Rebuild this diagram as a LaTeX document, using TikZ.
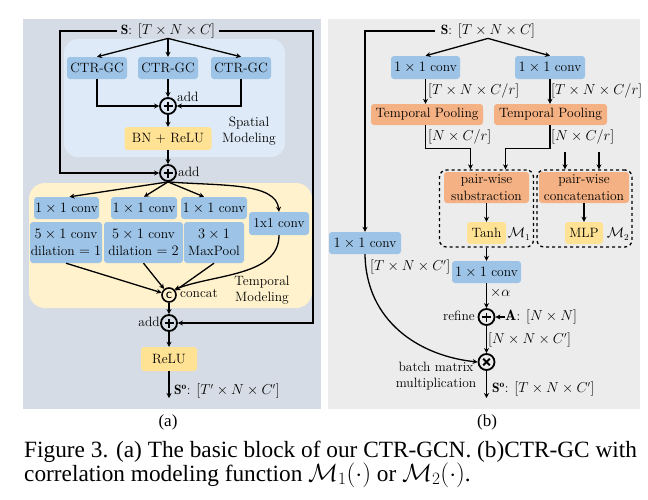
\documentclass[tikz,border=0pt]{standalone}
\usepackage{fontspec}
\newfontfamily\capfont{Liberation Serif}
\usetikzlibrary{arrows.meta,calc}
\definecolor{panelA}{RGB}{214,220,229}
\definecolor{panelB}{RGB}{236,236,236}
\definecolor{spbg}{RGB}{222,234,247}
\definecolor{tmbg}{RGB}{255,242,204}
\definecolor{cblue}{RGB}{157,195,230}
\definecolor{cyellow}{RGB}{255,226,148}
\definecolor{corange}{RGB}{244,177,131}
\begin{document}
\begin{tikzpicture}[x=1pt,y=-1pt,
  base/.style={font=\fontsize{13.5}{16.5}\selectfont, inner sep=0pt, align=center},
  lab/.style={base},
  bbox/.style={base, fill=cblue, rounded corners=3pt},
  ybox/.style={base, fill=cyellow, rounded corners=3pt},
  obox/.style={base, fill=corange, rounded corners=3pt},
  dbox/.style={draw, dashed, line width=1.3pt, rounded corners=7pt, inner sep=0pt},
  arr/.style={-{Stealth[length=5pt,width=5pt]}, line width=1.3pt},
  addc/.style={circle, draw, line width=1.8pt, minimum size=16pt, inner sep=0pt,
    path picture={\draw[line width=1.8pt]
      ([xshift=-4.5pt]path picture bounding box.center) -- ([xshift=4.5pt]path picture bounding box.center)
      ([yshift=-4.5pt]path picture bounding box.center) -- ([yshift=4.5pt]path picture bounding box.center);}},
  mulc/.style={circle, draw, line width=1.8pt, minimum size=16pt, inner sep=0pt,
    path picture={\draw[line width=1.8pt]
      ([shift={(-3.3pt,-3.3pt)}]path picture bounding box.center) -- ([shift={(3.3pt,3.3pt)}]path picture bounding box.center)
      ([shift={(-3.3pt,3.3pt)}]path picture bounding box.center) -- ([shift={(3.3pt,-3.3pt)}]path picture bounding box.center);}},
  catc/.style={circle, draw, line width=1.6pt, minimum size=14pt, inner sep=0pt,
    font=\sffamily\bfseries\fontsize{9}{9}\selectfont}
]
\useasboundingbox (0,0) rectangle (648,499);
\fill[white] (0,0) rectangle (648,499);

% ---------------- panel (a)
\fill[panelA] (23,19) rectangle (321,409);
\fill[spbg, rounded corners=14pt] (64,39) rectangle (285,157);
\fill[tmbg, rounded corners=16pt] (29,183) rectangle (312,308);

\node[lab] (sa) at (168,31) {$\mathbf{S}$: $[T\times N\times C]$};
\node[bbox, minimum width=60pt, minimum height=22pt] (g1) at (97,68) {CTR-GC};
\node[bbox, minimum width=60pt, minimum height=22pt] (g2) at (168,68) {CTR-GC};
\node[bbox, minimum width=60pt, minimum height=22pt] (g3) at (241,68) {CTR-GC};
\node[addc] (a1) at (168,106) {};
\node[lab, anchor=west] (la1) at (177,97) {add};
\node[ybox, minimum width=87pt, minimum height=23pt] (bn) at (168,138.5) {BN + ReLU};
\node[lab] (spl) at (249,131) {Spatial\\Modeling};
\node[addc] (a2) at (168,173) {};
\node[lab, anchor=west] (la2) at (178,172) {add};

\node[bbox, minimum width=65pt, minimum height=22pt] (cA) at (66.5,208) {$1\times1$ conv};
\node[bbox, minimum width=66pt, minimum height=22pt] (cB) at (144,208) {$1\times1$ conv};
\node[bbox, minimum width=66pt, minimum height=22pt] (cC) at (214,208) {$1\times1$ conv};
\node[bbox, minimum width=60pt, minimum height=23pt] (cR) at (279,223.5) {1x1 conv};
\node[bbox, minimum width=72pt, minimum height=41pt] (dD) at (66,242.5) {$5\times1$ conv\\dilation $=1$};
\node[bbox, minimum width=79pt, minimum height=41pt] (dE) at (143.5,242.5) {$5\times1$ conv\\dilation $=2$};
\node[bbox, minimum width=60pt, minimum height=41pt] (dF) at (214,242.5) {$3\times1$\\MaxPool};
\node[catc] (cc) at (169,295) {C};
\node[lab, anchor=west] (lcc) at (180,293) {concat};
\node[lab] (tml) at (262,290) {Temporal\\Modeling};
\node[addc] (a3) at (169,323) {};
\node[lab, anchor=east] (la3) at (160,322) {add};
\node[ybox, minimum width=56pt, minimum height=24pt] (relu) at (169,359) {ReLU};
\coordinate (oa) at (169,398);
\node[lab, anchor=west] (soa) at (174,391) {$\mathbf{S}^{\mathbf{o}}$: $[T'\times N\times C']$};

\draw[arr] ([xshift=-4pt]sa.west) -- (60,31) |- (a2.west);
\draw[arr] ([xshift=4pt]sa.east) -- (313,31) |- (a3.east);
\draw[arr] (sa.south) -- (g1.north);
\draw[arr] (sa.south) -- (g2.north);
\draw[arr] (sa.south) -- (g3.north);
\draw[arr] (g2) -- (a1);
\draw[arr] (g1.south) |- (a1.west);
\draw[arr] (g3.south) |- (a1.east);
\draw[arr] (a1) -- (bn);
\draw[arr] (bn) -- (a2);
\draw[arr] (a2.south) -- ([xshift=3pt]cA.north);
\draw[arr] (a2.south) -- (cB.north);
\draw[arr] (a2.south) -- ([xshift=-10pt]cC.north);
\draw[arr] (a2.south) .. controls (220,186) and (276,182) .. (cR.north);
\draw[arr] (dD.south) -- (cc);
\draw[arr] (dE.south) -- (cc);
\draw[arr] (dF.south) -- (cc);
\draw[arr] (cR.south) .. controls (279,276) and (215,274) .. (cc.north east);
\draw[arr] (cc) -- (a3);
\draw[arr] (a3) -- (relu);
\draw[arr] (relu) -- (oa);

% ---------------- panel (b)
\fill[panelB] (328,19) rectangle (640,409);
\node[lab] (sb) at (488,31) {$\mathbf{S}$: $[T\times N\times C]$};
\node[bbox, minimum width=69pt, minimum height=23pt] (k1) at (425.5,67.5) {$1\times1$ conv};
\node[bbox, minimum width=70pt, minimum height=23pt] (k2) at (550,67.5) {$1\times1$ conv};
\node[obox, minimum width=112pt, minimum height=21pt] (tp1) at (427,114.5) {Temporal Pooling};
\node[obox, minimum width=113pt, minimum height=21pt] (tp2) at (550.5,114.5) {Temporal Pooling};
\node[lab, anchor=west] (l1) at (428,91) {$[T\times N\times C/r]$};
\node[lab, anchor=west] (l2) at (551,91) {$[T\times N\times C/r]$};
\node[lab, anchor=west] (l3) at (428,137) {$[N\times C/r]$};
\node[lab, anchor=west] (l4) at (551,137) {$[N\times C/r]$};
\node[dbox, minimum width=94pt, minimum height=77pt] (m1) at (486.5,208.5) {};
\node[dbox, minimum width=95pt, minimum height=77pt] (m2) at (584.5,208.5) {};
\node[obox, minimum width=85pt, minimum height=31pt] (sub) at (486.5,187.5) {pair-wise\\substraction};
\node[obox, minimum width=90pt, minimum height=31pt] (cat) at (584,187.5) {pair-wise\\concatenation};
\node[ybox, minimum width=39pt, minimum height=22pt] (tanh) at (486.5,233) {Tanh};
\node[ybox, minimum width=38pt, minimum height=22pt] (mlp) at (584,233) {MLP};
\node[lab] (lm1) at (519,234) {$\mathcal{M}_1$};
\node[lab] (lm2) at (618,234) {$\mathcal{M}_2$};
\node[bbox, minimum width=69pt, minimum height=22pt] (conv3) at (486.5,272) {$1\times1$ conv};
\node[bbox, minimum width=72pt, minimum height=22pt] (conv0) at (365,243) {$1\times1$ conv};
\node[addc] (rf) at (486.5,317) {};
\node[lab, anchor=east] (lrf) at (475,316) {refine};
\node[lab, anchor=west] (Alab) at (505,317) {{\fontsize{15}{16}\selectfont$\mathbf{A}$}: $[N\times N]$};
\node[mulc] (mm) at (486.5,362) {};
\coordinate (ob) at (486.5,398);
\node[lab, anchor=west] (lal) at (490,293) {$\times\alpha$};
\node[lab, anchor=west] (lnn) at (488,340) {$[N\times N\times C']$};
\node[lab, anchor=west] (ltn) at (370,267) {$[T\times N\times C']$};
\node[lab] (bmm) at (436,376) {batch matrix\\multiplication};
\node[lab, anchor=west] (sob) at (492,389) {$\mathbf{S}^{\mathbf{o}}$: $[T\times N\times C']$};

\draw[arr] ([xshift=-6pt]sb.west) -- (365,31) -- (conv0.north);
\draw[arr] (sb.south) -- (k1.north);
\draw[arr] (sb.south) -- (k2.north);
\draw[arr] (k1.south) -- (k1.south |- tp1.north);
\draw[arr] (k2.south) -- (k2.south |- tp2.north);
\draw[arr] (k1.south |- tp1.south) -- ++(0,23) -| ($(m1.north)+(-16,0)$);
\draw[arr] (k2.south |- tp2.south) -- ++(0,23) -| ($(m1.north)+(19,0)$);
\draw[arr] ($(m2.north)+(-19.5,-17)$) -- ($(m2.north)+(-19.5,0)$);
\draw[arr] ($(m2.north)+(14.5,-17)$) -- ($(m2.north)+(14.5,0)$);
\draw[arr] (sub) -- (tanh);
\draw[arr] (cat) -- (mlp);
\draw[arr] (m1.south) -- (conv3.north);
\draw[arr] (conv3) -- (rf);
\draw[arr] (Alab.west) -- (rf.east);
\draw[arr] (rf) -- (mm);
\draw[arr] (conv0.south) .. controls (366,322) and (420,356) .. (mm.west);
\draw[arr] (mm) -- (ob);

% ---------------- captions
\node[anchor=base, inner sep=0pt, font=\capfont\fontsize{17}{19}\selectfont] (capa) at (168,426) {(a)};
\node[anchor=base, inner sep=0pt, font=\capfont\fontsize{17}{19}\selectfont] (capb) at (487,426) {(b)};
\node[anchor=base west, inner sep=0pt, font=\capfont\fontsize{23.3}{26}\selectfont] (cap1) at (24,457)
  {Figure 3. (a) The basic block of our CTR-GCN. (b)CTR-GC with};
\node[anchor=base west, inner sep=0pt, font=\capfont\fontsize{23.3}{26}\selectfont] (cap2) at (24,481)
  {correlation modeling function $\mathcal{M}_1(\cdot)$ or $\mathcal{M}_2(\cdot)$.};
\end{tikzpicture}
\end{document}
